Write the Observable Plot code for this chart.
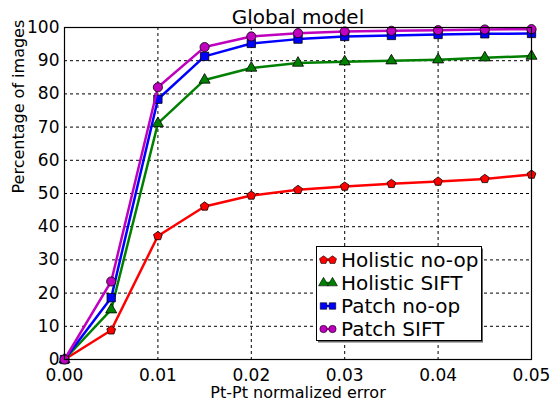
<!DOCTYPE html>
<html><head><meta charset="utf-8">
<script src="https://cdn.jsdelivr.net/npm/d3@7"></script>
<script src="https://cdn.jsdelivr.net/npm/@observablehq/plot@0.6"></script>
<style>body{margin:0;background:#fff;font-family:"DejaVu Sans",sans-serif;} svg text{font-family:"DejaVu Sans",sans-serif;}</style>
</head><body><div id="chart"></div>
<script>
const errors = [0, 0.005, 0.01, 0.015, 0.02, 0.025, 0.03, 0.035, 0.04, 0.045, 0.05];
const holisticNoop = [0, 8.8, 37.2, 46.1, 49.4, 51.1, 52.1, 52.9, 53.6, 54.4, 55.7];
const holisticSift = [0, 15.0, 71.1, 84.2, 87.8, 89.3, 89.7, 90.0, 90.3, 90.9, 91.4];
const patchNoop    = [0, 18.6, 78.4, 91.3, 95.2, 96.5, 97.3, 97.6, 97.9, 98.1, 98.2];
const patchSift    = [0, 23.5, 82.0, 94.1, 97.3, 98.3, 98.8, 99.0, 99.2, 99.4, 99.5];
const seriesNames = ["Holistic no-op", "Holistic SIFT", "Patch no-op", "Patch SIFT"];
const seriesColors = ["#ff0000", "#008000", "#0000ff", "#bf00bf"];
const xTicks = [0, 0.01, 0.02, 0.03, 0.04, 0.05];
const yTicks = [0, 10, 20, 30, 40, 50, 60, 70, 80, 90, 100];
const title = "Global model";
const xLabel = "Pt-Pt normalized error";
const yLabel = "Percentage of images";

const pentagon = {
  draw(ctx, size) {
    const r = Math.sqrt(size / (2.5 * Math.sin(2 * Math.PI / 5)));
    for (let i = 0; i < 5; i++) {
      const a = -Math.PI / 2 + i * 2 * Math.PI / 5;
      const x = r * Math.cos(a), y = r * Math.sin(a);
      if (i === 0) ctx.moveTo(x, y); else ctx.lineTo(x, y);
    }
    ctx.closePath();
  }
};
const symbols = [pentagon, d3.symbolTriangle, d3.symbolSquare, d3.symbolCircle];
const radii = [4.0, 4.1, 4.7, 4.6];

const allValues = [holisticNoop, holisticSift, patchNoop, patchSift];
const rows = allValues.map((vals, s) => errors.map((x, i) => ({x, y: vals[i], series: seriesNames[s]})));

const marks = [
  Plot.gridX(xTicks, {stroke: "black", strokeOpacity: 1, strokeDasharray: "3,3", strokeWidth: 1}),
  Plot.gridY(yTicks, {stroke: "black", strokeOpacity: 1, strokeDasharray: "3,3", strokeWidth: 1}),
  Plot.axisX(xTicks, {tickSize: 0, tickPadding: 9, fontSize: 17, tickFormat: d3.format(".2f"), label: null, fill: "black"}),
  Plot.axisY(yTicks, {tickSize: 0, tickPadding: 5, fontSize: 17, label: null, fill: "black"}),
];
rows.forEach((data, s) => {
  marks.push(Plot.line(data, {x: "x", y: "y", stroke: seriesColors[s], strokeWidth: 2.5}));
  marks.push(Plot.dot(data, {x: "x", y: "y", symbol: symbols[s], r: radii[s], fill: seriesColors[s], stroke: "black", strokeWidth: 0.8}));
});
marks.push(Plot.frame({stroke: "black", strokeWidth: 1.2}));
marks.push(Plot.text([title], {frameAnchor: "top", lineAnchor: "middle", dy: -10, fontSize: 20, fill: "black"}));
marks.push(Plot.text([xLabel], {frameAnchor: "bottom", lineAnchor: "middle", dy: 33, fontSize: 16, fill: "black"}));
marks.push(Plot.text([yLabel], {frameAnchor: "left", dx: -46, rotate: -90, fontSize: 16, fill: "black"}));

const chart = Plot.plot({
  width: 552, height: 401,
  marginLeft: 64, marginRight: 21, marginTop: 27, marginBottom: 42,
  style: {fontFamily: "'DejaVu Sans', sans-serif", background: "white", overflow: "visible"},
  x: {domain: [0, 0.05]},
  y: {domain: [0, 100]},
  marks
});
document.getElementById("chart").appendChild(chart);

// legend
const svg = d3.select(chart);
const lg = svg.append("g").attr("text-anchor", "start");
lg.append("rect").attr("x", 318).attr("y", 248.5).attr("width", 165).attr("height", 94).attr("fill", "#666");
lg.append("rect").attr("x", 316.5).attr("y", 246.5).attr("width", 165).attr("height", 94).attr("fill", "white").attr("stroke", "black");
seriesNames.forEach((name, s) => {
  const y = 260 + s * 23;
  lg.append("line").attr("x1", 323).attr("x2", 332).attr("y1", y).attr("y2", y).attr("stroke", seriesColors[s]).attr("stroke-width", 2.5);
  [323.5, 332.5].forEach(x => {
    lg.append("path").attr("transform", `translate(${x},${y})`)
      .attr("d", d3.symbol(symbols[s], 42)())
      .attr("fill", seriesColors[s]).attr("stroke", "black").attr("stroke-width", 0.6);
  });
  lg.append("text").attr("x", 341).attr("y", y).attr("dy", "0.35em")
    .attr("text-anchor", "start")
    .attr("font-size", 20).attr("fill", "black").text(name);
});
</script></body></html>
